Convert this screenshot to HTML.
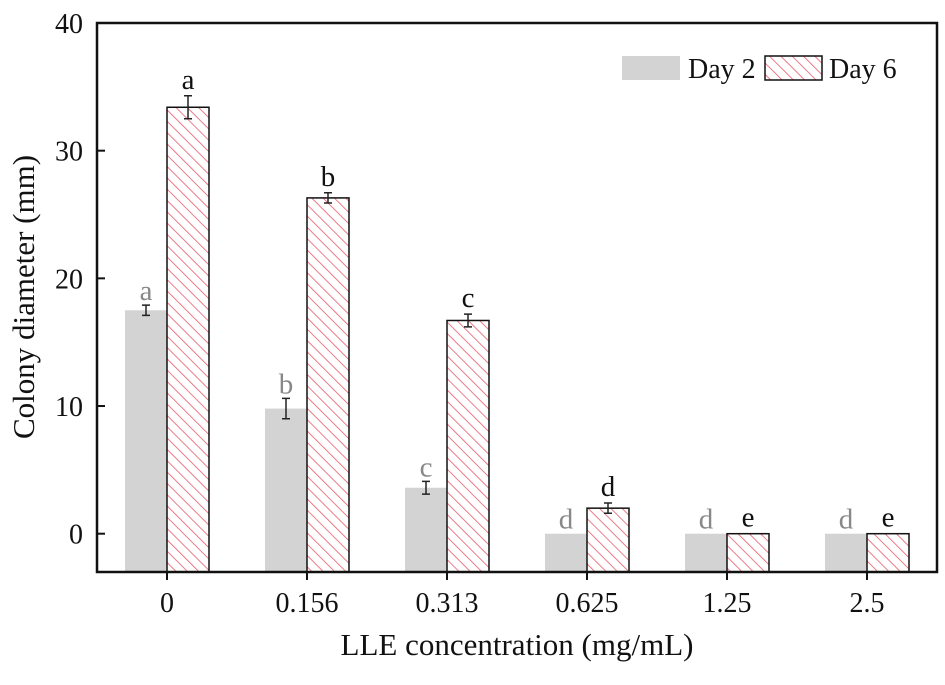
<!DOCTYPE html>
<html><head><meta charset="utf-8"><style>
body{margin:0;background:#fff}
svg text{font-family:"Liberation Serif",serif}
</style></head><body>
<svg id="c" width="945" height="680" xmlns="http://www.w3.org/2000/svg">
<defs><pattern id="h" patternUnits="userSpaceOnUse" width="8" height="8" patternTransform="rotate(-45)"><line x1="0" y1="0" x2="0" y2="8" stroke="#e85a6a" stroke-width="1.6"/></pattern></defs>
</svg>
<script>
const categories=["0","0.156","0.313","0.625","1.25","2.5"];
const day2=[17.5,9.8,3.6,0,0,0];
const day2Err=[0.4,0.8,0.5,0,0,0];
const day6=[33.4,26.3,16.7,2.0,0,0];
const day6Err=[0.9,0.4,0.5,0.4,0,0];
const day2Letters=["a","b","c","d","d","d"];
const day6Letters=["a","b","c","d","e","e"];
const yTicks=[0,10,20,30,40];
const L=97,R=937,T=23,B=572,yMin=-3,yMax=40;
const y=v=>B-(v-yMin)/(yMax-yMin)*(B-T);
const xc=i=>167+i*140;
const svg=document.getElementById('c');
function mk(t,a,txt){const e=document.createElementNS('http://www.w3.org/2000/svg',t);for(const k in a)e.setAttribute(k,a[k]);if(txt!==undefined)e.textContent=txt;svg.appendChild(e);return e;}
const bw=42;
categories.forEach((c,i)=>{
  const x=xc(i);
  let r=mk('rect',{x:x-bw,y:y(day2[i]),width:bw,height:B-y(day2[i]),fill:'#d3d3d3'});
  
  
  r=mk('rect',{x:x,y:y(day6[i]),width:bw,height:B-y(day6[i]),fill:'url(#h)',stroke:'#111','stroke-width':1.5});
  
  
  [[x-bw/2,day2[i],day2Err[i]],[x+bw/2,day6[i],day6Err[i]]].forEach(([cx,v,e])=>{
    if(e>0){const g=mk('path',{d:`M${cx},${y(v+e)}V${y(v-e)}M${cx-4},${y(v+e)}H${cx+4}M${cx-4},${y(v-e)}H${cx+4}`,stroke:'#222','stroke-width':1.5,fill:'none'});
    
    }
  });
  let t=mk('text',{x:x-bw/2,y:y(day2[i]+day2Err[i])-5,'text-anchor':'middle','font-size':29,fill:'#888'},day2Letters[i]);
  
  
  t=mk('text',{x:x+bw/2,y:y(day6[i]+day6Err[i])-7,'text-anchor':'middle','font-size':29,fill:'#111'},day6Letters[i]);
  
  
  const tk=mk('line',{x1:x,x2:x,y1:B,y2:B+8,stroke:'#111','stroke-width':2});
  
  
  t=mk('text',{x:x,y:B+40,'text-anchor':'middle','font-size':28,fill:'#111'},c);
  
  
});
yTicks.forEach(v=>{
  const tk=mk('line',{x1:L,x2:L+8,y1:y(v),y2:y(v),stroke:'#111','stroke-width':2});
  
  
  const t=mk('text',{x:L-14,y:y(v)+10,'text-anchor':'end','font-size':28,fill:'#111'},v);
  
  
});
const fr=mk('rect',{x:L,y:T,width:R-L,height:B-T,fill:'none',stroke:'#111','stroke-width':2.5});


let t=mk('text',{x:517,y:655,'text-anchor':'middle','font-size':31,fill:'#111'},'LLE concentration (mg/mL)');


t=mk('text',{x:0,y:0,'text-anchor':'middle','font-size':31,fill:'#111',transform:'translate(34,297) rotate(-90)'},'Colony diameter (mm)');


let lg=mk('rect',{x:622,y:56,width:58,height:24,fill:'#d3d3d3'});


t=mk('text',{x:688,y:78,'font-size':28,fill:'#111'},'Day 2');


lg=mk('rect',{x:765,y:56,width:57,height:24,fill:'url(#h)',stroke:'#111','stroke-width':1.5});


t=mk('text',{x:829,y:78,'font-size':28,fill:'#111'},'Day 6');


</script>
</body></html>
